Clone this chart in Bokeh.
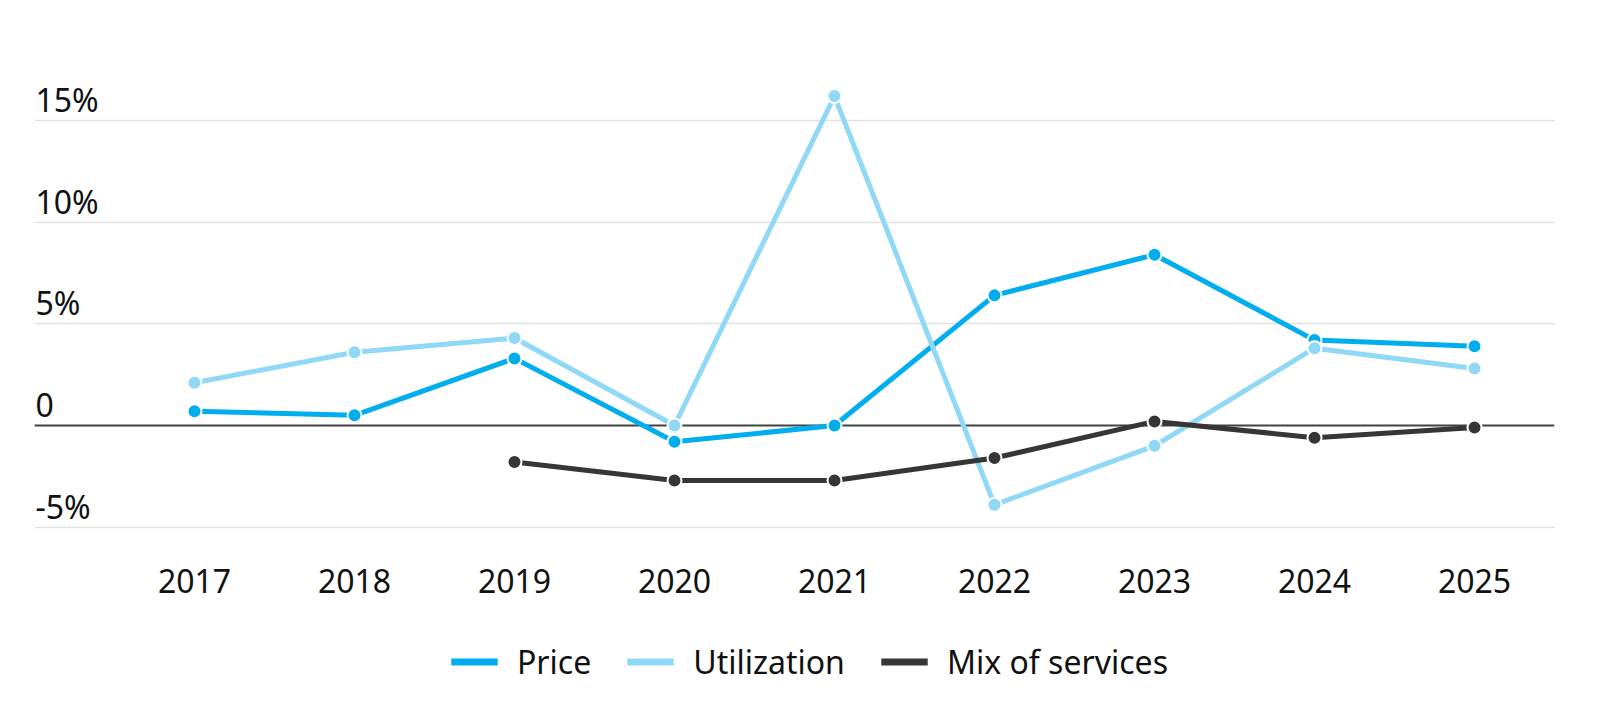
from bokeh.plotting import figure
from bokeh.models import Range1d, FixedTicker, Span, Legend, LegendItem, ColumnDataSource
from bokeh.core.properties import value
from bokeh.embed import file_html
from bokeh.resources import INLINE

# ---- data ----
years = [2017, 2018, 2019, 2020, 2021, 2022, 2023, 2024, 2025]
year_labels = ["2017", "2018", "2019", "2020", "2021", "2022", "2023", "2024", "2025"]
price = [0.7, 0.5, 3.3, -0.8, 0.0, 6.4, 8.4, 4.2, 3.9]
utilization = [2.1, 3.6, 4.3, 0.0, 16.2, -3.9, -1.0, 3.8, 2.8]
mix_of_services = [None, None, -1.8, -2.7, -2.7, -1.6, 0.2, -0.6, -0.1]
y_ticks = [-5, 0, 5, 10, 15]
y_tick_labels = ["-5%", "0", "5%", "10%", "15%"]
series_names = ["Price", "Utilization", "Mix of services"]

# ---- styles / geometry ----
FONT = "Noto Sans"
FS = "32px"
TEXT_COLOR = "#111111"
colors = ["#00AEEF", "#8FD8F6", "#363636"]

W, H = 1600, 710
TOP = 38            # frame top (px)
ZERO_PX = 425       # pixel row of the zero line
PPU = 20.333        # pixels per percentage point
ymax = (ZERO_PX - TOP) / PPU
ymin = -(H - ZERO_PX) / PPU
xlabel_y = -(593 - ZERO_PX) / PPU   # baseline row of the year labels
BASE_FIX = -15      # svg baseline compensation

p = figure(width=W, height=H, output_backend="svg", toolbar_location=None,
           x_range=Range1d(2016, 2025.5), y_range=Range1d(ymin, ymax),
           min_border_left=34, min_border_right=46, min_border_top=TOP,
           min_border_bottom=0)
p.outline_line_color = None
p.background_fill_color = "white"
p.border_fill_color = "white"
p.xaxis.visible = False
p.yaxis.visible = False

# grid
p.xgrid.grid_line_color = None
p.ygrid.ticker = FixedTicker(ticks=y_ticks)
p.ygrid.grid_line_color = "#e2e2e2"
p.ygrid.grid_line_width = 1.5

# zero line
p.add_layout(Span(location=0, dimension="width", line_color="#444444",
                  line_width=2, level="underlay"))

# y tick labels above grid lines
ysrc = ColumnDataSource(dict(x=[p.x_range.start] * len(y_ticks), y=y_ticks, t=y_tick_labels))
p.text(x="x", y="y", text="t", source=ysrc, text_font=value(FONT),
       text_font_size=FS, text_color=TEXT_COLOR, text_align="left",
       text_baseline="alphabetic", x_offset=1, y_offset=-6 + BASE_FIX)

# x tick labels
xsrc = ColumnDataSource(dict(x=years, y=[xlabel_y] * len(years), t=year_labels))
p.text(x="x", y="y", text="t", source=xsrc, text_font=value(FONT),
       text_font_size=FS, text_color=TEXT_COLOR, text_align="center",
       text_baseline="alphabetic", y_offset=2 + BASE_FIX)

nan = float("nan")
def clean(v):
    return [nan if a is None else a for a in v]

all_series = [price, utilization, mix_of_services]
items = []
for name, vals, col in zip(series_names, all_series, colors):
    src = ColumnDataSource(dict(x=years, y=clean(vals)))
    p.line("x", "y", source=src, line_color=col, line_width=5)
    p.scatter("x", "y", source=src, size=14, fill_color=col,
              line_color="white", line_width=2)
    # zero-size rect only used as the legend swatch (drawn as a bar)
    swatch = p.rect("x", "y", width=0, height=0, source=src,
                    fill_color=col, line_color=None)
    items.append(LegendItem(label=name, renderers=[swatch], index=6))

legend = Legend(items=items, orientation="horizontal", location=(411, 27),
                glyph_width=58, glyph_height=9, label_standoff=14, spacing=30,
                label_text_font=FONT, label_text_font_size=FS,
                label_text_color=TEXT_COLOR, border_line_color=None,
                background_fill_alpha=0, margin=0, padding=0)
p.add_layout(legend, "center")

open("out.html", "w").write(file_html(p, INLINE))
